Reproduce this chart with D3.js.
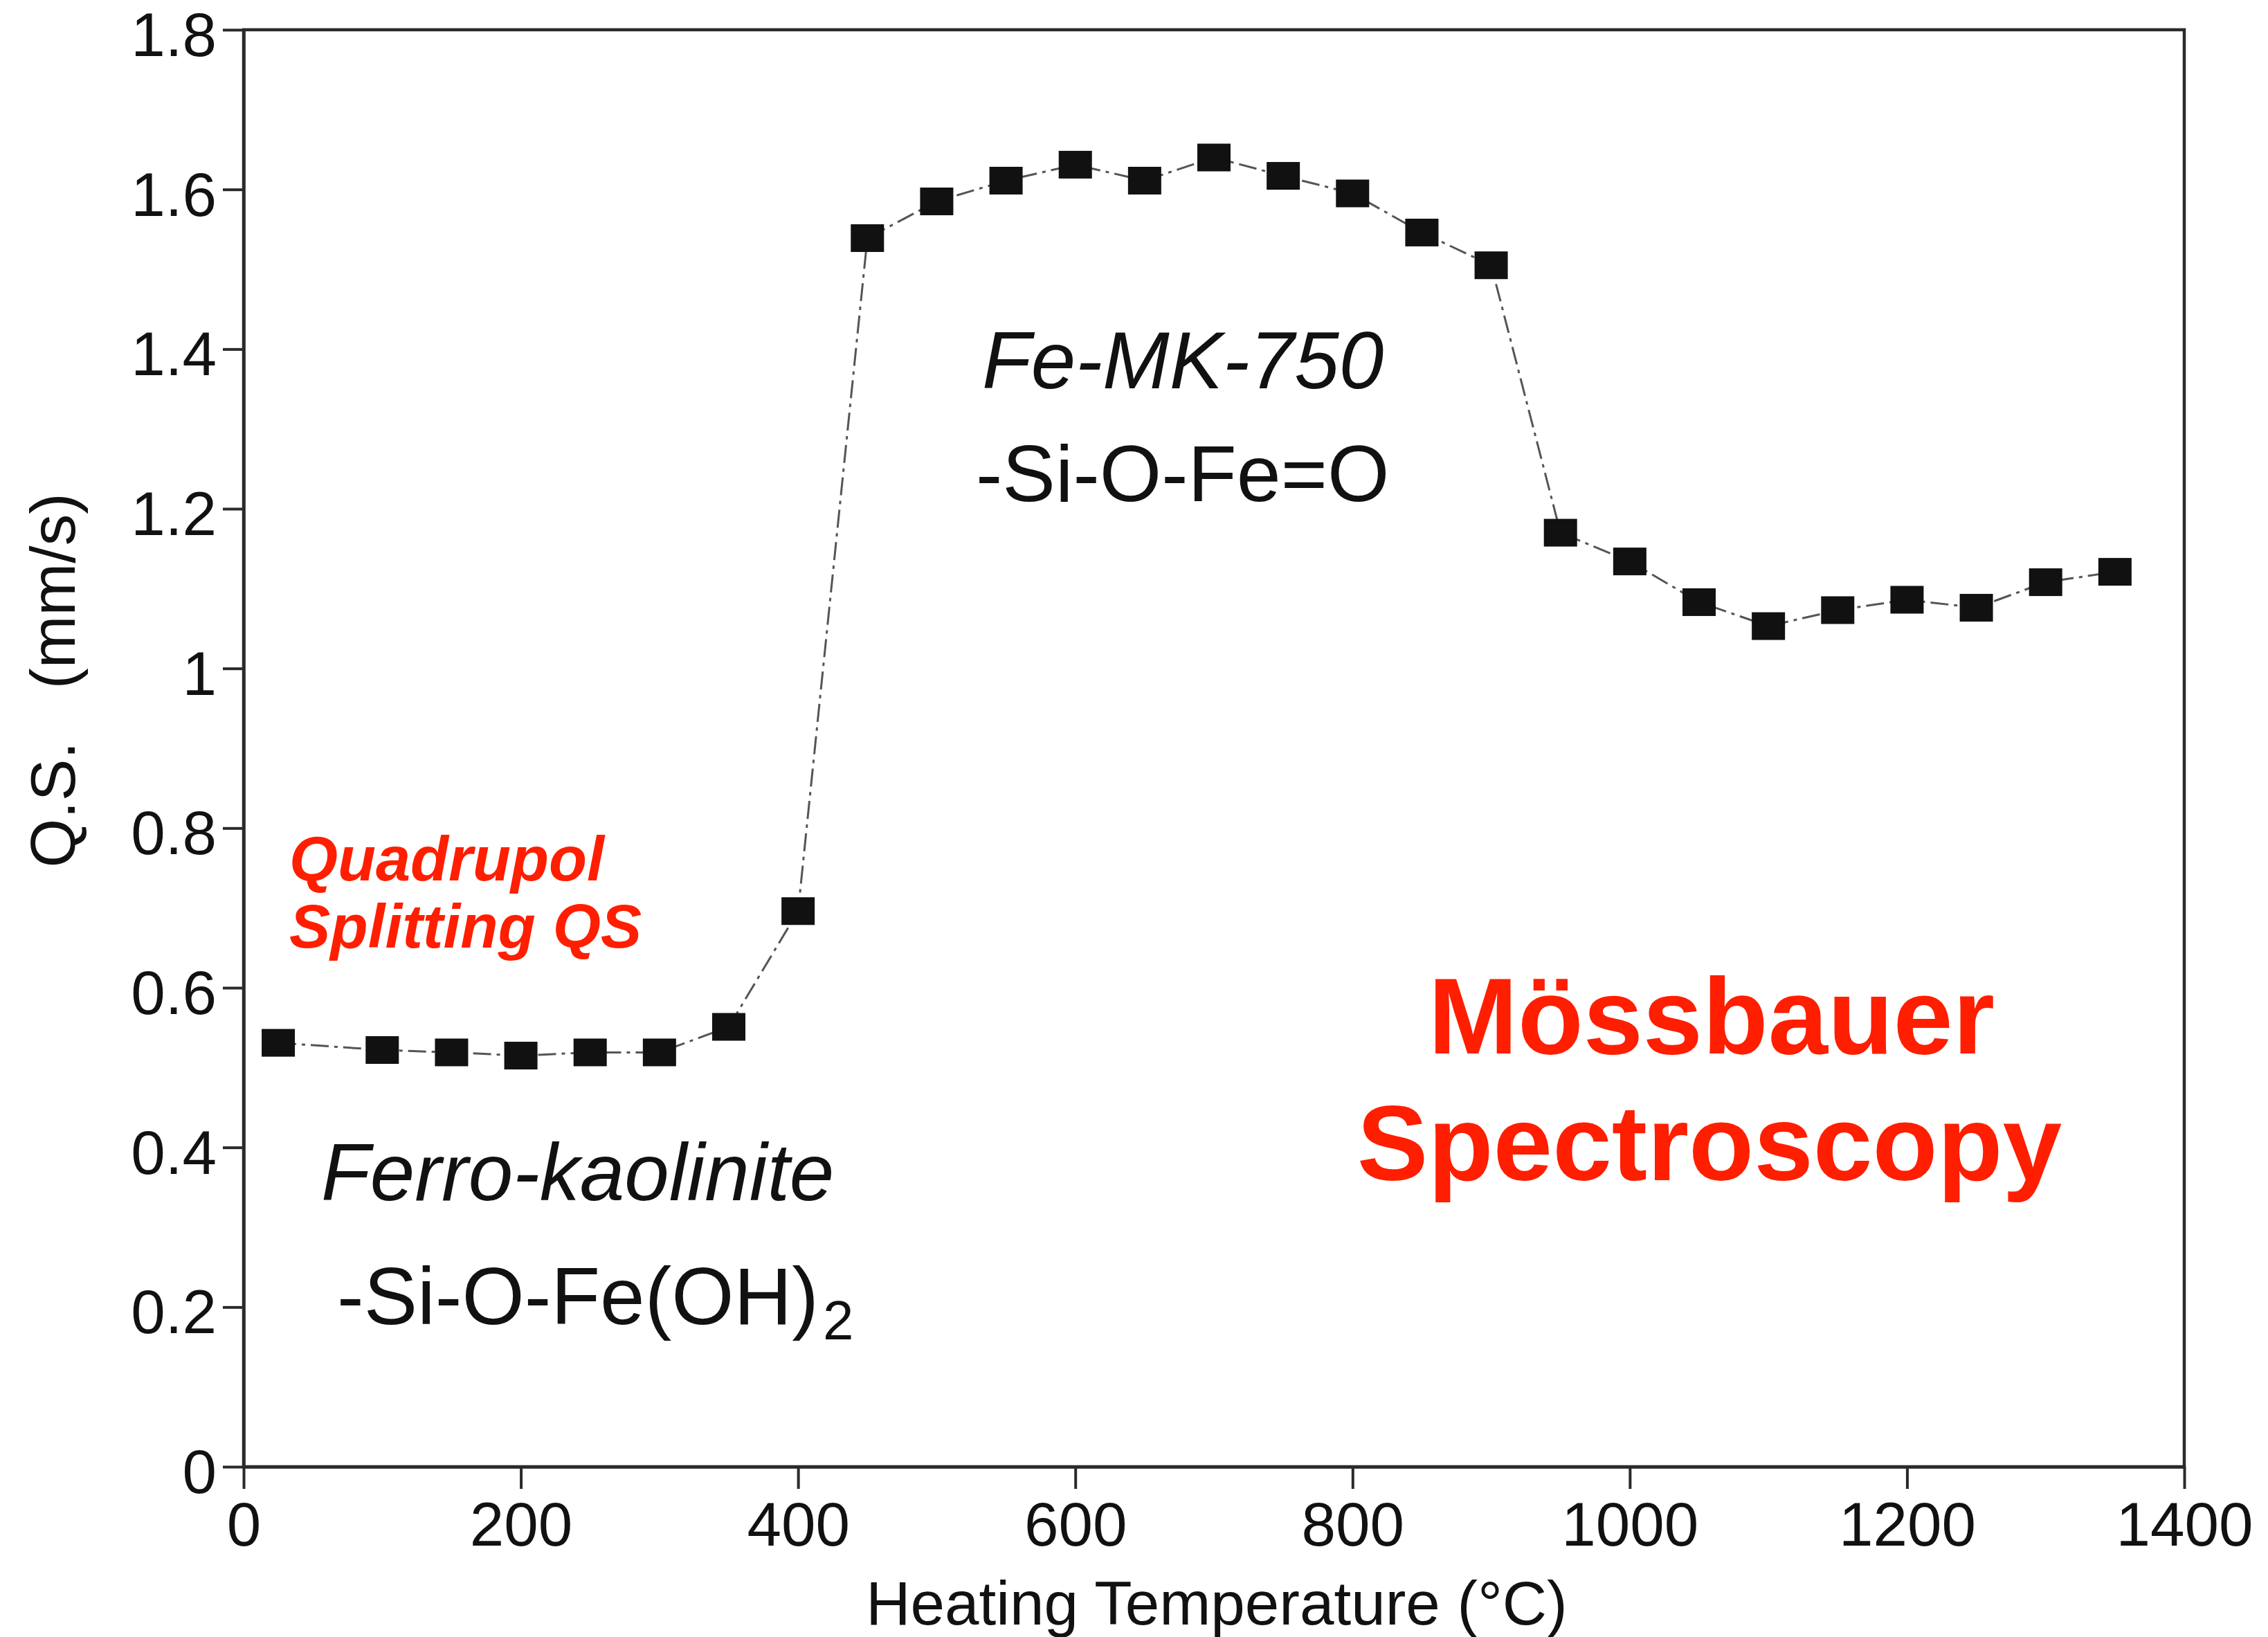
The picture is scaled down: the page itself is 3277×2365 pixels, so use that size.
<!DOCTYPE html>
<html>
<head>
<meta charset="utf-8">
<script src="https://cdn.jsdelivr.net/npm/d3@7"></script>
<style>
  html, body { margin: 0; padding: 0; background: #fff; }
  svg { display: block; }
  text { font-family: "Liberation Sans", Arial, Helvetica, sans-serif; }
</style>
</head>
<body>
<svg id="chart" width="3277" height="2365"></svg>
<script>
// ---- data ----
const temperatures = [25, 100, 150, 200, 250, 300, 350, 400, 450, 500, 550, 600, 650, 700,
                      750, 800, 850, 900, 950, 1000, 1050, 1100, 1150, 1200, 1250, 1300, 1350];
const qsValues = [0.531, 0.522, 0.519, 0.515, 0.519, 0.519, 0.551, 0.696, 1.539, 1.585, 1.611,
                  1.631, 1.611, 1.640, 1.617, 1.595, 1.546, 1.505, 1.170, 1.134, 1.083, 1.053,
                  1.073, 1.086, 1.076, 1.108, 1.121];
const xTicks = [0, 200, 400, 600, 800, 1000, 1200, 1400];
const xTickLabels = ["0", "200", "400", "600", "800", "1000", "1200", "1400"];
const yTicks = [0, 0.2, 0.4, 0.6, 0.8, 1.0, 1.2, 1.4, 1.6, 1.8];
const yTickLabels = ["0", "0.2", "0.4", "0.6", "0.8", "1", "1.2", "1.4", "1.6", "1.8"];
const xTitle = "Heating Temperature (°C)";
const yTitle = "Q.S.   (mm/s)";

// ---- layout ----
const svg = d3.select("#chart");
const plotLeft = 352, plotRight = 3156, plotTop = 43, plotBottom = 2119;
const x = d3.scaleLinear().domain([0, 1400]).range([plotLeft, plotRight]);
const y = d3.scaleLinear().domain([0, 1.8]).range([plotBottom, plotTop]);
const axisColor = "#2a2a2a";
const red = "#ff1e00";

// frame
svg.append("rect")
  .attr("x", plotLeft).attr("y", plotTop)
  .attr("width", plotRight - plotLeft).attr("height", plotBottom - plotTop)
  .attr("fill", "none").attr("stroke", axisColor).attr("stroke-width", 4.5);

// axes
const xAxis = d3.axisBottom(x).tickValues(xTicks)
  .tickFormat((d, i) => xTickLabels[i]).tickSize(32).tickSizeOuter(0).tickPadding(19);
const yAxis = d3.axisLeft(y).tickValues(yTicks)
  .tickFormat((d, i) => yTickLabels[i]).tickSize(30).tickSizeOuter(0).tickPadding(9);

const gx = svg.append("g").attr("transform", `translate(0,${plotBottom})`).call(xAxis);
const gy = svg.append("g").attr("transform", `translate(${plotLeft},0)`).call(yAxis);
[gx, gy].forEach(g => {
  g.select(".domain").attr("stroke", axisColor).attr("stroke-width", 4.5);
  g.selectAll(".tick line").attr("stroke", axisColor).attr("stroke-width", 4);
  g.selectAll(".tick text").attr("fill", "#111").attr("font-size", 89)
    .attr("font-family", "'Liberation Sans', Arial, sans-serif");
});
gy.selectAll(".tick text").attr("dy", "0.42em");

// axis titles
svg.append("text")
  .attr("x", (plotLeft + plotRight) / 2 + 4).attr("y", 2347)
  .attr("text-anchor", "middle").attr("font-size", 89).attr("fill", "#111")
  .text(xTitle);
svg.append("text")
  .attr("transform", "translate(108,983) rotate(-90)")
  .attr("text-anchor", "middle").attr("font-size", 91).attr("fill", "#111")
  .style("white-space", "pre")
  .text(yTitle);

// data line
const line = d3.line().x((d, i) => x(temperatures[i])).y(d => y(d));
svg.append("path")
  .datum(qsValues)
  .attr("d", line)
  .attr("fill", "none")
  .attr("stroke", "#555")
  .attr("stroke-width", 3)
  .attr("stroke-dasharray", "26,8,5,8");

// markers
const mw = 48, mh = 40;
svg.append("g").selectAll("rect")
  .data(qsValues)
  .join("rect")
  .attr("x", (d, i) => x(temperatures[i]) - mw / 2)
  .attr("y", d => y(d) - mh / 2)
  .attr("width", mw).attr("height", mh)
  .attr("fill", "#111");

// annotations
function label(txt, xp, yp, size, opts = {}) {
  return svg.append("text")
    .attr("x", xp).attr("y", yp)
    .attr("font-size", size)
    .attr("font-style", opts.italic ? "italic" : "normal")
    .attr("font-weight", opts.bold ? "bold" : "normal")
    .attr("text-anchor", opts.anchor || "start")
    .attr("fill", opts.color || "#111")
    .text(txt);
}
label("Fe-MK-750", 1419, 561, 116, { italic: true });
label("-Si-O-Fe=O", 1410, 724, 115);
label("Ferro-kaolinite", 464, 1734, 116, { italic: true });
const sub = label("-Si-O-Fe(OH)", 487, 1913, 116);
sub.append("tspan").attr("font-size", 80).attr("dx", 6).attr("dy", 22).text("2");
label("Quadrupol", 418, 1272, 90, { italic: true, bold: true, color: red });
label("Splitting QS", 418, 1369, 89, { italic: true, bold: true, color: red });
label("Mössbauer", 2473, 1522, 155, { bold: true, color: red, anchor: "middle" });
label("Spectroscopy", 2470, 1705, 154, { bold: true, color: red, anchor: "middle" });
</script>
</body>
</html>
